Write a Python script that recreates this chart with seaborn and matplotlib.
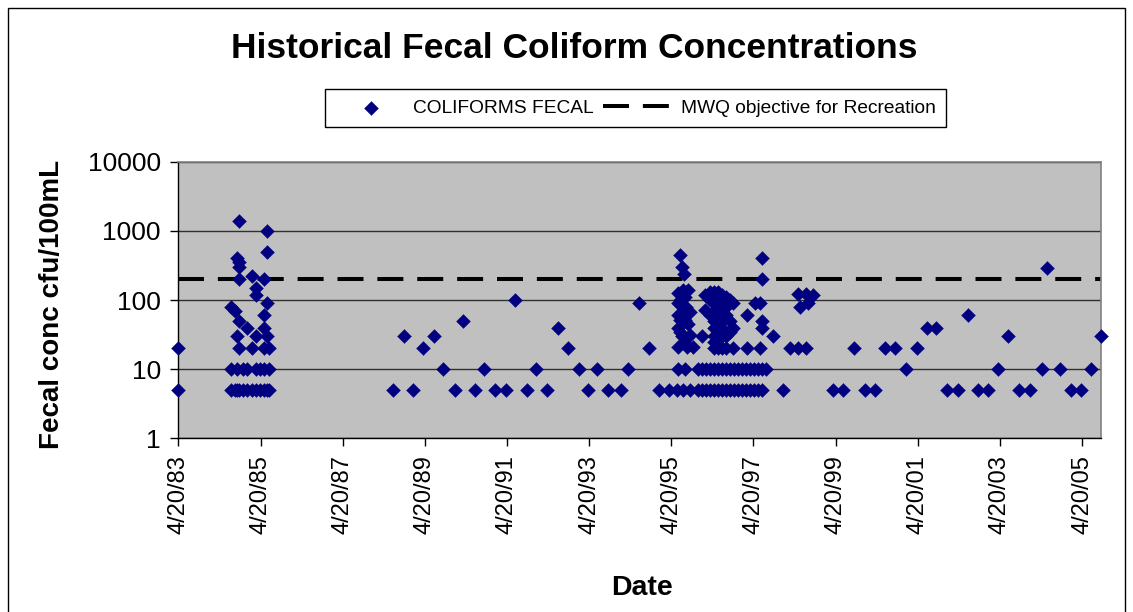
import pandas as pd
import matplotlib
matplotlib.use("Agg")
import matplotlib.pyplot as plt
from matplotlib.patches import Rectangle
from matplotlib.ticker import NullLocator
import seaborn as sns

# --- data ---
dates_1983_85 = [
    "1983-04-20", "1983-04-20",
    "1984-07-29", "1984-07-29", "1984-07-29",
    "1984-09-06", "1984-09-06",
    "1984-09-26", "1984-09-26", "1984-09-26", "1984-09-26",
    "1984-10-11", "1984-10-11", "1984-10-11", "1984-10-11", "1984-10-11", "1984-10-11", "1984-10-11",
    "1984-11-15", "1984-11-15",
    "1984-12-24", "1984-12-24", "1984-12-24",
    "1985-02-04", "1985-02-04", "1985-02-04",
    "1985-03-11", "1985-03-11", "1985-03-11", "1985-03-11", "1985-03-11",
    "1985-04-16", "1985-04-16",
    "1985-05-21", "1985-05-21", "1985-05-21", "1985-05-21", "1985-05-21", "1985-05-21",
    "1985-06-17", "1985-06-17", "1985-06-17", "1985-06-17", "1985-06-17",
    "1985-07-02", "1985-07-02", "1985-07-02",
]
fecal_1983_85 = [
    20, 5,
    80, 10, 5,
    70, 5,
    400, 30, 10, 5,
    1400, 350, 300, 200, 50, 20, 5,
    10, 5,
    40, 10, 5,
    220, 20, 5,
    150, 120, 30, 10, 5,
    10, 5,
    200, 60, 40, 20, 10, 5,
    1000, 500, 90, 30, 5,
    20, 10, 5,
]

dates_1988_95 = [
    "1988-07-14", "1988-10-17", "1989-01-08", "1989-04-01", "1989-07-10", "1989-10-01",
    "1990-01-10", "1990-03-28", "1990-07-07", "1990-09-28", "1991-01-04", "1991-04-12",
    "1991-07-01", "1991-10-13", "1992-01-01", "1992-04-08", "1992-07-17", "1992-10-12",
    "1993-01-18", "1993-04-08", "1993-06-29", "1993-10-04", "1994-01-26", "1994-04-04",
    "1994-07-10", "1994-10-01", "1995-01-04", "1995-03-28",
]
fecal_1988_95 = [
    5, 30, 5, 20, 30, 10,
    5, 50, 5, 10, 5, 5,
    100, 5, 10, 5, 40, 20,
    10, 5, 10, 5, 5, 10,
    90, 20, 5, 5,
]

dates_1995_97 = [
    "1995-06-10",
    "1995-06-18", "1995-06-18", "1995-06-18", "1995-06-18", "1995-06-18", "1995-06-18",
    "1995-07-06", "1995-07-06", "1995-07-06", "1995-07-06",
    "1995-07-24", "1995-07-24", "1995-07-24",
    "1995-08-02", "1995-08-02",
    "1995-08-11", "1995-08-11",
    "1995-08-19", "1995-08-19", "1995-08-19",
    "1995-08-28",
    "1995-09-06",
    "1995-09-15", "1995-09-15",
    "1995-10-03", "1995-10-03", "1995-10-03",
    "1995-10-29",
    "1995-12-13", "1995-12-13",
    "1996-01-15",
    "1996-01-18", "1996-01-18",
    "1996-02-14", "1996-02-14",
    "1996-02-23", "1996-02-23",
    "1996-03-30", "1996-03-30", "1996-03-30", "1996-03-30", "1996-03-30",
    "1996-05-04", "1996-05-04", "1996-05-04", "1996-05-04", "1996-05-04", "1996-05-04",
    "1996-05-04", "1996-05-04", "1996-05-04", "1996-05-04", "1996-05-04",
    "1996-06-09", "1996-06-09", "1996-06-09", "1996-06-09", "1996-06-09",
    "1996-06-09", "1996-06-09", "1996-06-09", "1996-06-09", "1996-06-09",
    "1996-07-14", "1996-07-14", "1996-07-14", "1996-07-14", "1996-07-14",
    "1996-07-14", "1996-07-14", "1996-07-14", "1996-07-14",
    "1996-08-19", "1996-08-19", "1996-08-19", "1996-08-19", "1996-08-19", "1996-08-19", "1996-08-19",
    "1996-09-23", "1996-09-23", "1996-09-23", "1996-09-23", "1996-09-23",
    "1996-10-20", "1996-10-20", "1996-10-20",
    "1996-10-29", "1996-10-29",
    "1996-12-04", "1996-12-04",
    "1997-01-09", "1997-01-09",
    "1997-02-14", "1997-02-14",
    "1997-02-20", "1997-02-20",
    "1997-03-22", "1997-03-22",
    "1997-04-26", "1997-04-26",
    "1997-05-05",
    "1997-06-01", "1997-06-01",
    "1997-06-18", "1997-06-18",
    "1997-07-02", "1997-07-02", "1997-07-02", "1997-07-02",
    "1997-07-05", "1997-07-05",
    "1997-08-09",
    "1997-10-08",
]
fecal_1995_97 = [
    5,
    125, 90, 60, 39, 21, 10,
    450, 100, 51, 35,
    300, 68, 30,
    140, 5,
    240, 25,
    110, 51, 10,
    80,
    21,
    140, 45,
    68, 31, 5,
    21,
    10, 5,
    30,
    10, 5,
    118, 72,
    10, 5,
    130, 100, 60, 10, 5,
    130, 110, 90, 70, 50, 40,
    30, 25, 20, 10, 5,
    130, 120, 100, 80, 60,
    45, 35, 20, 10, 5,
    120, 90, 70, 50, 40,
    30, 20, 10, 5,
    110, 80, 60, 30, 20, 10, 5,
    100, 50, 35, 10, 5,
    90, 40, 20,
    10, 5,
    10, 5,
    10, 5,
    10, 5,
    60, 20,
    10, 5,
    10, 5,
    90,
    10, 5,
    90, 20,
    400, 200, 50, 40,
    10, 5,
    10,
    30,
]

dates_1998_05 = [
    "1998-01-10", "1998-03-10", "1998-05-23", "1998-05-23", "1998-06-08", "1998-08-04",
    "1998-08-04", "1998-08-20", "1998-10-04", "1999-03-30", "1999-06-27", "1999-09-30",
    "2000-01-06", "2000-04-05", "2000-07-02", "2000-09-30", "2001-01-05", "2001-04-16",
    "2001-07-08", "2001-09-26", "2002-01-02", "2002-04-15", "2002-07-07", "2002-10-10",
    "2003-01-07", "2003-04-06", "2003-06-28", "2003-10-09", "2004-01-13", "2004-04-26",
    "2004-06-09", "2004-10-06", "2005-01-09", "2005-04-08", "2005-07-08", "2005-10-03",
]
fecal_1998_05 = [
    5, 20, 124, 20, 80, 124,
    20, 90, 118, 5, 5, 20,
    5, 5, 20, 20, 10, 20,
    40, 40, 5, 5, 60, 5,
    5, 10, 30, 5, 5, 10,
    290, 10, 5, 5, 10, 30,
]

objective_dates = ["1983-04-20", "2005-10-03"]
objective_level = [200, 200]

tick_dates = ["1983-04-20", "1985-04-20", "1987-04-20", "1989-04-20", "1991-04-20", "1993-04-20",
              "1995-04-20", "1997-04-20", "1999-04-20", "2001-04-20", "2003-04-20", "2005-04-20"]
tick_labels = ["4/20/83", "4/20/85", "4/20/87", "4/20/89", "4/20/91", "4/20/93",
               "4/20/95", "4/20/97", "4/20/99", "4/20/01", "4/20/03", "4/20/05"]
y_ticks = [1, 10, 100, 1000, 10000]
y_labels = ["1", "10", "100", "1000", "10000"]

# --- frames ---
df = pd.DataFrame({
    "Date": pd.to_datetime(dates_1983_85 + dates_1988_95 + dates_1995_97 + dates_1998_05),
    "Fecal": fecal_1983_85 + fecal_1988_95 + fecal_1995_97 + fecal_1998_05,
})
objective = pd.DataFrame({"Date": pd.to_datetime(objective_dates), "Level": objective_level})

sns.set_style("ticks")
plt.rcParams["font.family"] = ["Liberation Sans", "DejaVu Sans"]
plt.rcParams["text.color"] = "black"
plt.rcParams["xtick.color"] = "black"
plt.rcParams["ytick.color"] = "black"

fig = plt.figure(figsize=(11.33, 6.12), dpi=100)
ax = fig.add_axes([0.1574, 0.2838, 0.8141, 0.4520])
ax.set_facecolor("#C0C0C0")

sns.lineplot(data=objective, x="Date", y="Level", ax=ax, color="black", lw=2.9,
             linestyle=(0, (6.45, 3.45)), errorbar=None,
             label="MWQ objective for Recreation", zorder=2.5)
sns.scatterplot(data=df, x="Date", y="Fecal", ax=ax, marker="D", s=50,
                color="#000080", edgecolor="#000080", linewidth=0.3,
                label="COLIFORMS FECAL", clip_on=False, zorder=3)

ax.set_yscale("log")
ax.set_ylim(1, 10000)
ax.set_yticks(y_ticks)
ax.set_yticklabels(y_labels)
ax.yaxis.set_minor_locator(NullLocator())
ax.set_xlim(pd.Timestamp(objective_dates[0]), pd.Timestamp(objective_dates[1]))
ax.set_xticks(pd.to_datetime(tick_dates))
ax.set_xticklabels(tick_labels, rotation=90)
ax.tick_params(axis="y", direction="out", length=6, width=1, pad=6.5, labelsize=19,
               colors="black")
ax.tick_params(axis="x", direction="out", length=6, width=1, pad=5.8, labelsize=17,
               colors="black")
ax.grid(axis="y", which="major", color="#303030", lw=1)
ax.set_axisbelow(True)
for side in ["left", "bottom"]:
    ax.spines[side].set_color("black")
    ax.spines[side].set_linewidth(1)
for side in ["top", "right"]:
    ax.spines[side].set_color("#808080")
    ax.spines[side].set_linewidth(1.2)
ax.set_xlabel("")
ax.set_ylabel("")

fig.text(574 / 1133, 1 - 49 / 612, "Historical Fecal Coliform Concentrations",
         ha="center", va="center", fontsize=25.5, fontweight="bold", color="black")
fig.text(52 / 1133, 1 - 304 / 612, "Fecal conc cfu/100mL", rotation=90,
         ha="center", va="center", fontsize=20, fontweight="bold", color="black")
fig.text(642 / 1133, 1 - 588 / 612, "Date", ha="center", va="center",
         fontsize=20.5, fontweight="bold", color="black")

handles, labels = ax.get_legend_handles_labels()
order = [labels.index("COLIFORMS FECAL"), labels.index("MWQ objective for Recreation")]
leg = ax.legend([handles[i] for i in order], [labels[i] for i in order],
                loc="center", bbox_to_anchor=(635.5 / 1133, 1 - 108 / 612),
                bbox_transform=fig.transFigure, ncol=2, frameon=True, fancybox=False,
                edgecolor="black", framealpha=1, fontsize=13.8, scatterpoints=1,
                handlelength=3.73, handletextpad=0.3, columnspacing=0.53, borderpad=0.55)
leg.get_frame().set_linewidth(1)

fig.patches.append(Rectangle((8 / 1133, -0.05), (1125 - 8) / 1133, 1.05 - 8 / 612,
                             transform=fig.transFigure, fill=False, edgecolor="black", lw=1))

fig.savefig("out.png", dpi=100)
